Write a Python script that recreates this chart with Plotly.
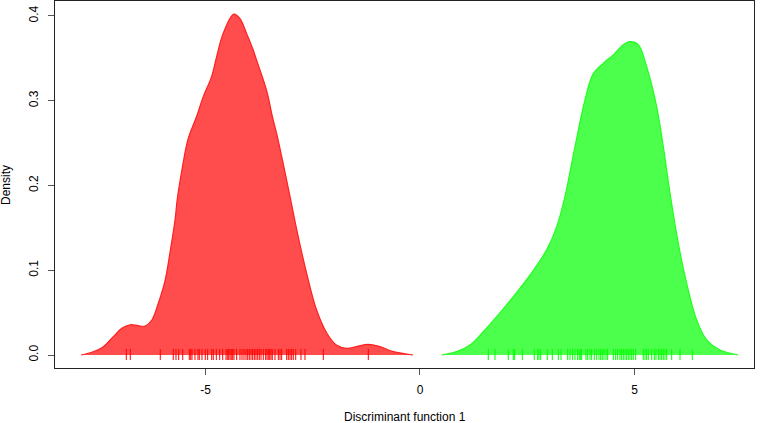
import plotly.graph_objects as go

# Density curve of group 1
red_x = [-7.90, -7.62, -7.38, -7.15, -6.95, -6.76, -6.57, -6.41, -6.25, -6.10, -5.94, -5.83,
         -5.71, -5.66, -5.55, -5.41, -5.21, -5.05, -4.86, -4.74, -4.59, -4.34, -4.20, -4.04,
         -3.89, -3.81, -3.57, -3.44, -3.34, -3.19, -3.03, -2.84, -2.64, -2.41, -2.17, -1.95,
         -1.71, -1.48, -1.21, -0.93, -0.62, -0.16]
red_y = [0.0, 0.0039, 0.0098, 0.0216, 0.0315, 0.0357, 0.0346, 0.0342, 0.0413, 0.061, 0.0884, 0.120,
         0.159, 0.183, 0.218, 0.254, 0.281, 0.305, 0.328, 0.352, 0.379, 0.402, 0.397, 0.379,
         0.360, 0.348, 0.311, 0.281, 0.261, 0.226, 0.187, 0.140, 0.096, 0.053, 0.0256, 0.0118,
         0.0079, 0.0098, 0.0126, 0.0098, 0.0039, 0.0]

# Density curve of group 2
green_x = [0.506, 0.855, 1.166, 1.476, 1.788, 2.175, 2.564, 2.953, 3.186, 3.380, 3.536, 3.690,
           3.846, 4.040, 4.273, 4.506, 4.739, 4.895, 5.089, 5.284, 5.517, 5.671, 5.828, 6.021,
           6.217, 6.450, 6.683, 6.993, 7.420]
green_y = [0.0, 0.0039, 0.0118, 0.0275, 0.0452, 0.0688, 0.0943, 0.124, 0.151, 0.187, 0.226, 0.265,
           0.301, 0.332, 0.344, 0.354, 0.366, 0.3695, 0.366, 0.340, 0.293, 0.246, 0.191, 0.132,
           0.0845, 0.0413, 0.0177, 0.0059, 0.0]

# Individual discriminant scores (rug)
red_rug = [-6.846, -6.753, -6.054, -5.751, -5.688, -5.625, -5.531, -5.378, -5.345, -5.315, -5.245,
           -5.175, -5.145, -5.082, -5.005, -4.949, -4.855, -4.818, -4.748, -4.669, -4.599, -4.522,
           -4.492, -4.459, -4.429, -4.399, -4.366, -4.336, -4.273, -4.196, -4.149, -4.103, -4.056,
           -4.016, -3.979, -3.939, -3.900, -3.862, -3.823, -3.783, -3.746, -3.706, -3.653, -3.597,
           -3.566, -3.536, -3.503, -3.473, -3.443, -3.380, -3.303, -3.263, -3.224, -3.107, -3.070,
           -3.030, -2.991, -2.953, -2.897, -2.774, -2.681, -2.254, -1.205]
green_rug = [1.592, 1.748, 2.058, 2.175, 2.207, 2.385, 2.664, 2.744, 2.774, 2.814, 2.967, 3.084,
             3.224, 3.287, 3.443, 3.497, 3.559, 3.613, 3.676, 3.713, 3.746, 3.769, 3.869, 3.909,
             3.963, 4.002, 4.063, 4.119, 4.172, 4.212, 4.249, 4.289, 4.336, 4.375, 4.506, 4.562,
             4.608, 4.662, 4.702, 4.739, 4.779, 4.818, 4.855, 4.895, 4.935, 4.972, 5.028, 5.205,
             5.245, 5.284, 5.322, 5.401, 5.462, 5.501, 5.555, 5.594, 5.634, 5.671, 5.711, 5.751,
             5.867, 6.061, 6.347]

x_ticks = [-5, 0, 5]
y_ticks = [0.0, 0.1, 0.2, 0.3, 0.4]
y_tick_labels = ["0.0", "0.1", "0.2", "0.3", "0.4"]

RUG_TOP = 0.0071
RUG_BOT = -0.0059

def rug_xy(vals):
    xs, ys = [], []
    for v in vals:
        xs += [v, v, None]
        ys += [RUG_BOT, RUG_TOP, None]
    return xs, ys

fig = go.Figure()
fig.add_trace(go.Scatter(x=red_x, y=red_y, mode="lines", fill="toself",
                         fillcolor="rgba(255,0,0,0.7)", line=dict(color="#ff2020", width=1.2),
                         line_shape="spline", hoverinfo="skip"))
fig.add_trace(go.Scatter(x=green_x, y=green_y, mode="lines", fill="toself",
                         fillcolor="rgba(0,255,0,0.7)", line=dict(color="#20ff20", width=1.2),
                         line_shape="spline", hoverinfo="skip"))
rx, ry = rug_xy(red_rug)
fig.add_trace(go.Scatter(x=rx, y=ry, mode="lines", line=dict(color="#ff0000", width=1),
                         hoverinfo="skip"))
gx, gy = rug_xy(green_rug)
fig.add_trace(go.Scatter(x=gx, y=gy, mode="lines", line=dict(color="#00ff00", width=1),
                         hoverinfo="skip"))

font = dict(family="Liberation Sans, Arial, sans-serif", size=12, color="#000000")

fig.update_layout(
    width=767, height=423,
    margin=dict(l=55, r=13, t=1, b=55, autoexpand=False),
    paper_bgcolor="white", plot_bgcolor="white",
    showlegend=False, font=font,
    xaxis=dict(range=[-8.508, 7.786], tickvals=x_ticks, ticktext=[str(v) for v in x_ticks],
               showgrid=False, zeroline=False, showline=True, mirror=True,
               linecolor="#222222", linewidth=1, ticks="outside", ticklen=6,
               tickcolor="#555555", ticklabelstandoff=5, automargin=False),
    yaxis=dict(range=[-0.01533, 0.4175], tickvals=y_ticks, ticktext=y_tick_labels,
               tickangle=-90, showgrid=False, zeroline=False, showline=True, mirror=True,
               linecolor="#222222", linewidth=1, ticks="outside", ticklen=6,
               tickcolor="#555555", ticklabelstandoff=5, automargin=False),
    annotations=[
        dict(text="Discriminant function 1", xref="paper", yref="paper",
             x=0.5, y=(368 - 417) / 367, xanchor="center", yanchor="middle",
             showarrow=False, font=font),
        dict(text="Density", xref="paper", yref="paper", textangle=-90,
             x=(6 - 55) / 699, y=(368 - 185) / 367, xanchor="center", yanchor="middle",
             showarrow=False, font=font),
    ],
)

fig.write_html("out.html", config={"displayModeBar": False},
               post_script="document.body.style.margin='0';document.body.style.overflow='hidden';")
